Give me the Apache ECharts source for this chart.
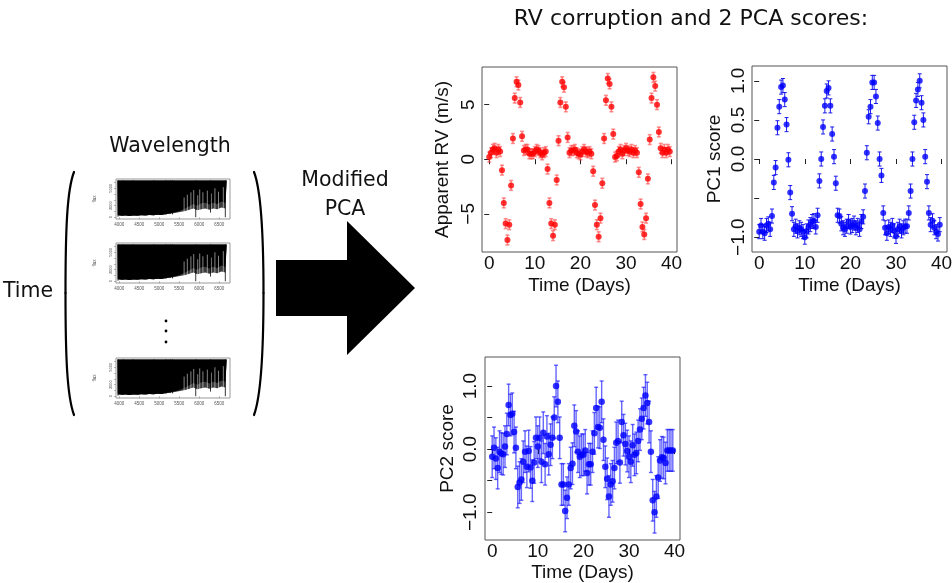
<!DOCTYPE html>
<html><head><meta charset="utf-8">
<script src="https://cdn.jsdelivr.net/npm/echarts@6/dist/echarts.min.js"></script>
<style>html,body{margin:0;padding:0;background:#fff}#c{width:952px;height:583px}</style>
</head><body><div id="c"></div>
<script>
// ---- data ----
const days = [0,0.4,0.8,1.2,1.6,2,2.4,2.8,3.2,3.6,4,4.4,4.8,5.2,5.6,6,6.4,6.8,7.2,7.6,8,8.4,8.8,9.2,9.6,10,10.4,10.8,11.2,11.6,12,12.4,12.8,13.2,13.6,14,14.4,14.8,15.2,15.6,16,16.4,16.8,17.2,17.6,18,18.4,18.8,19.2,19.6,20,20.4,20.8,21.2,21.6,22,22.4,22.8,23.2,23.6,24,24.4,24.8,25.2,25.6,26,26.4,26.8,27.2,27.6,28,28.4,28.8,29.2,29.6,30,30.4,30.8,31.2,31.6,32,32.4,32.8,33.2,33.6,34,34.4,34.8,35.2,35.6,36,36.4,36.8,37.2,37.6,38,38.4,38.8,39.2,39.6];
const rv = [0.2,0.6,0.9,1.0,0.6,0.9,0.7,-1.0,-4.0,-5.9,
  -7.4,-6.0,-2.4,1.9,5.6,7.1,6.8,5.2,2.1,0.8,
  0.9,0.9,0.5,0.5,0.5,0.7,0.9,0.8,0.6,0.4,0.6,0.7,
  -0.9,-4.0,-5.9,-7.0,-6.0,-1.9,1.7,5.2,7.1,6.6,4.8,2.0,
  0.6,0.8,0.8,0.9,0.6,0.5,0.4,0.7,0.9,0.7,0.6,0.7,0.5,
  -1.1,-4.2,-6.0,-7.1,-5.4,-2.2,1.9,5.4,7.4,6.9,4.8,2.3,
  0.2,0.3,0.7,0.9,0.5,0.8,1.0,0.8,0.7,0.9,0.6,0.8,0.6,
  -1.2,-4.1,-6.2,-6.9,-5.4,-1.8,1.8,5.6,7.5,6.7,5.0,2.5,
  1.0,0.6,0.9,0.6,0.9,0.7];
const pc1 = [-0.93,-0.85,-0.93,-0.95,-0.85,-0.83,-0.9,-0.73,-0.3,-0.11,
  0.4,0.67,0.92,0.94,0.76,0.44,-0.01,-0.43,-0.7,-0.9,
  -0.86,-0.92,-0.88,-0.9,-0.93,-1.0,-0.92,-0.87,-0.84,-0.8,-0.79,-0.87,
  -0.72,-0.28,0.0,0.41,0.68,0.87,0.91,0.68,0.32,0.03,-0.31,-0.72,
  -0.73,-0.83,-0.88,-0.9,-0.86,-0.8,-0.87,-0.85,-0.82,-0.88,-0.85,-0.9,-0.8,
  -0.74,-0.41,0.08,0.54,0.67,0.98,0.98,0.8,0.46,0.0,-0.21,-0.69,
  -0.88,-0.95,-0.87,-0.9,-0.85,-0.92,-0.99,-0.9,-0.86,-0.92,-0.88,-0.86,-0.86,
  -0.69,-0.41,0.0,0.47,0.75,0.89,1.0,0.72,0.5,0.03,-0.29,-0.69,
  -0.84,-0.79,-0.88,-0.93,-0.96,-0.84];
const pc2 = [-0.12,0.02,-0.15,-0.30,-0.04,-0.07,-0.08,0.04,0.24,0.70,
  0.54,0.56,0.27,0.02,-0.60,-0.53,-0.48,-0.20,-0.04,-0.28,
  -0.03,-0.29,-0.50,-0.21,0.18,0.04,0.18,-0.20,0.26,-0.24,
  0.20,-0.08,0.07,0.18,0.50,1.00,0.75,0.18,-0.56,-0.56,
  -0.98,-0.77,-0.56,-0.30,-0.23,0.37,0.28,-0.04,-0.12,-0.09,
  -0.09,-0.02,-0.38,-0.24,-0.24,-0.04,0.25,0.65,0.35,0.34,
  0.75,0.15,-0.28,-0.47,-0.75,-0.56,-0.51,-0.30,0.10,0.13,
  -0.21,0.43,0.22,0.08,-0.03,-0.12,-0.20,0.06,-0.09,-0.06,
  0.13,0.31,0.48,0.65,0.85,0.73,0.43,-0.04,-0.81,-1.00,
  -0.75,-0.45,-0.18,-0.13,-0.14,-0.22,-0.02,-0.02,-0.02,-0.02];
const rvErr = 0.45;
const pc1Err = 0.09;
const pc2Err = 0.33;

const timeTicks = [0,10,20,30,40];
const rvTicks = [-5,0,5];
const pcTicks = [-1,-0.5,0,0.5,1];
const pc1Labels = [-1,0,0.5,1];
const pc2Labels = [-1,0,1];

// spectrum thumbnail (flux envelope vs wavelength)
const specWave =     [3955,3962,4050,4150,4250,4350,4450,4550,4650,4750,4850,4950,5050,5150,5250,5350,5450,5550,5650,5750,5850,5950,6050,6150,6250,6350,6450,6550,6650,6685];
const specLowGray =  [6350,350,250,300,200,300,250,350,300,400,350,450,400,500,600,700,800,950,1100,1300,1500,1200,1400,1500,1300,1500,1400,1700,1500,6350];
const specLowBlack = [6350,350,250,300,200,300,250,350,300,400,350,450,400,500,650,800,950,1200,1500,1900,2300,2000,2400,2500,2200,2500,2300,2700,2500,6350];
const specTop = 6350;
const specLineWave = [3968,4102,4340,4861,5170,5270,5330,5910,6280,6650];
const specLineFlux = [100,250,300,350,450,550,500,0,800,0];
const specGapWave = [5620,5700,5790,5860,5960,6010,6090,6200,6300,6390,6480,6600];
const specGapFlux = [3400,3900,4300,4700,3800,4800,4300,4600,4100,5000,4400,5200];
const specXTicks = [4000,4500,5000,5500,6000,6500];
const specYTicks = [0,1000,2000,3000,4000,5000,6000];
const specYLabels = [0,2000,5000];

// ---- chart ----
const RF = '"Liberation Sans", Arial, sans-serif';
const SF = '"DejaVu Sans", sans-serif';
const chart = echarts.init(document.getElementById('c'), null, {renderer:'canvas'});

function minus(v){ return v < 0 ? '\u2212' + Math.abs(v) : String(v); }
function minus1(v){ return (v < 0 ? '\u2212' : '') + Math.abs(v).toFixed(1); }
function plain(v){ return String(v); }

function errRender(color, cap, lw){
  return function(params, api){
    const x = api.value(0), y = api.value(1), e = api.value(2);
    const a = api.coord([x, y - e]), b = api.coord([x, y + e]);
    const st = {stroke: color, lineWidth: lw};
    return {type:'group', children:[
      {type:'line', shape:{x1:a[0],y1:a[1],x2:b[0],y2:b[1]}, style:st},
      {type:'line', shape:{x1:a[0]-cap,y1:a[1],x2:a[0]+cap,y2:a[1]}, style:st},
      {type:'line', shape:{x1:b[0]-cap,y1:b[1],x2:b[0]+cap,y2:b[1]}, style:st}
    ]};
  };
}
function specPolygon(lowArr, fill){
  return function(params, api){
    const pts = [];
    for (let i = 0; i < specWave.length; i++) pts.push(api.coord([specWave[i], lowArr[i]]));
    for (let i = specWave.length - 1; i >= 0; i--) pts.push(api.coord([specWave[i], specTop]));
    return {type:'polygon', shape:{points:pts}, style:{fill:fill}};
  };
}
function vLineRender(color, lw, toFlux){
  return function(params, api){
    const w = api.value(0), f = api.value(1);
    const a = api.coord([w, f]), b = api.coord([w, toFlux]);
    return {type:'line', shape:{x1:a[0],y1:a[1],x2:b[0],y2:b[1]}, style:{stroke:color, lineWidth:lw}};
  };
}

const grids = [
  {left:482, top:67, width:195, height:185},
  {left:752, top:66, width:195, height:186},
  {left:485, top:357, width:195, height:183},
  {left:116, top:179, width:114, height:40},
  {left:116, top:243, width:114, height:40},
  {left:116, top:358, width:114, height:40}
].map(g => Object.assign(g, {show:true, borderColor:'#555', borderWidth:1, backgroundColor:'rgba(0,0,0,0)', containLabel:false, outerBoundsMode:'none'}));
for (let i = 3; i < 6; i++) grids[i].borderColor = '#999';

function timeAxis(gi, gap){
  return {gridIndex:gi, type:'value', min:-1.58, max:41.18,
    axisLine:{show:false}, splitLine:{show:false},
    axisTick:{show:true, customValues:timeTicks, length:5, lineStyle:{color:'#222'}},
    axisLabel:{customValues:timeTicks, formatter:plain, fontSize:19, fontFamily:RF, color:'#111', margin:2},
    name:'Time (Days)', nameLocation:'middle', nameGap:gap,
    nameTextStyle:{fontSize:19, fontFamily:RF, color:'#111'}};
}
function valAxis(gi, min, max, ticks, labels, fmt, name, gap, margin){
  return {gridIndex:gi, type:'value', min:min, max:max,
    axisLine:{show:false}, splitLine:{show:false},
    axisTick:{show:true, customValues:ticks, length:5, lineStyle:{color:'#222'}},
    axisLabel:{customValues:labels, rotate:90, formatter:fmt, fontSize:19, fontFamily:RF, color:'#111', margin:margin},
    name:name, nameLocation:'middle', nameGap:gap, nameRotate:90,
    nameTextStyle:{fontSize:19, fontFamily:RF, color:'#111'}};
}
function specXAxis(gi){
  return {gridIndex:gi, type:'value', min:3917, max:6767,
    axisLine:{show:false}, splitLine:{show:false},
    axisTick:{show:true, customValues:specXTicks, length:2, lineStyle:{color:'#888', width:0.6}},
    axisLabel:{customValues:specXTicks, formatter:plain, fontSize:4.5, fontFamily:RF, color:'#555', margin:3}};
}
function specYAxis(gi){
  return {gridIndex:gi, type:'value', min:-300, max:6600,
    axisLine:{show:false}, splitLine:{show:false},
    axisTick:{show:true, customValues:specYTicks, length:2, lineStyle:{color:'#888', width:0.6}},
    axisLabel:{customValues:specYLabels, formatter:plain, rotate:90, fontSize:4, fontFamily:RF, color:'#555', margin:3},
    name:'flux', nameLocation:'middle', nameGap:19, nameRotate:90,
    nameTextStyle:{fontSize:4.5, fontFamily:RF, color:'#555'}};
}

const xAxes = [timeAxis(0, 24), timeAxis(1, 24), timeAxis(2, 23), specXAxis(3), specXAxis(4), specXAxis(5)];
const yAxes = [
  valAxis(0, -8.5, 8.45, rvTicks, rvTicks, minus, 'Apparent RV (m/s)', 30, 4),
  valAxis(1, -1.19, 1.19, pcTicks, pc1Labels, minus1, 'PC1 score', 28, 4),
  valAxis(2, -1.44, 1.46, pcTicks, pc2Labels, minus1, 'PC2 score', 28, 5),
  specYAxis(3), specYAxis(4), specYAxis(5)
];

const series = [];
function addScatter(gi, vals, err, barColor, dotColor, cap, lw, size){
  series.push({type:'custom', xAxisIndex:gi, yAxisIndex:gi, silent:true, z:2,
    renderItem: errRender(barColor, cap, lw), encode:{x:0, y:1},
    data: days.map((d, i) => [d, vals[i], err])});
  series.push({type:'scatter', xAxisIndex:gi, yAxisIndex:gi, silent:true, z:3,
    symbol:'circle', symbolSize:size, itemStyle:{color:dotColor},
    data: days.map((d, i) => [d, vals[i]])});
}
addScatter(0, rv, rvErr, 'rgba(255,60,60,0.55)', '#ff0000', 2, 1.6, 6);
addScatter(1, pc1, pc1Err, '#1a1aee', '#0000ff', 2, 1, 6);
addScatter(2, pc2, pc2Err, 'rgba(20,20,255,0.65)', '#0000ff', 2, 1.4, 6.5);
for (let gi = 3; gi < 6; gi++){
  series.push({type:'custom', xAxisIndex:gi, yAxisIndex:gi, silent:true, z:2,
    renderItem: specPolygon(specLowGray, '#3a3a3a'), data:[[specWave[0], specTop]]});
  series.push({type:'custom', xAxisIndex:gi, yAxisIndex:gi, silent:true, z:3,
    renderItem: specPolygon(specLowBlack, '#000'), data:[[specWave[0], specTop]]});
  series.push({type:'custom', xAxisIndex:gi, yAxisIndex:gi, silent:true, z:4,
    renderItem: vLineRender('rgba(255,255,255,0.75)', 0.7, 0), data: specGapWave.map((w, i) => [w, specGapFlux[i]])});
  series.push({type:'custom', xAxisIndex:gi, yAxisIndex:gi, silent:true, z:5,
    renderItem: vLineRender('#000', 0.8, specTop), data: specLineWave.map((w, i) => [w, specLineFlux[i]])});
}

function txt(t, x, y, size){
  return {type:'text', silent:true, style:{text:t, x:x, y:y, fill:'#111',
    font: size + 'px ' + SF, textAlign:'center', textVerticalAlign:'middle'}};
}
const parenStyle = {stroke:'#000', lineWidth:2.2, fill:null, lineCap:'round'};
const graphic = [
  txt('RV corruption and 2 PCA scores:', 691, 19, 22),
  txt('Wavelength', 170, 146.5, 20.5),
  txt('Time', 28, 292, 20.5),
  txt('Modified', 345, 180.5, 20.5),
  txt('PCA', 345, 209.5, 20.5),
  {type:'bezierCurve', silent:true, shape:{x1:74,y1:172,cpx1:67,cpy1:190,cpx2:65.5,cpy2:230,x2:65.5,y2:293}, style:parenStyle},
  {type:'bezierCurve', silent:true, shape:{x1:65.5,y1:293,cpx1:65.5,cpy1:356,cpx2:67,cpy2:396,x2:74,y2:415}, style:parenStyle},
  {type:'bezierCurve', silent:true, shape:{x1:254,y1:172,cpx1:261,cpy1:190,cpx2:263.5,cpy2:230,x2:263.5,y2:293}, style:parenStyle},
  {type:'bezierCurve', silent:true, shape:{x1:263.5,y1:293,cpx1:263.5,cpy1:356,cpx2:261,cpy2:396,x2:254,y2:415}, style:parenStyle},
  {type:'polygon', silent:true, shape:{points:[[276,260],[347,260],[347,221],[415,288],[347,355],[347,316],[276,316]]}, style:{fill:'#000'}},
  {type:'circle', silent:true, shape:{cx:166, cy:321, r:1.4}, style:{fill:'#000'}},
  {type:'circle', silent:true, shape:{cx:166, cy:331, r:1.4}, style:{fill:'#000'}},
  {type:'circle', silent:true, shape:{cx:166, cy:342, r:1.4}, style:{fill:'#000'}}
];

chart.setOption({
  animation:false,
  backgroundColor:'#fff',
  grid: grids, xAxis: xAxes, yAxis: yAxes, series: series, graphic: graphic
});
</script></body></html>
